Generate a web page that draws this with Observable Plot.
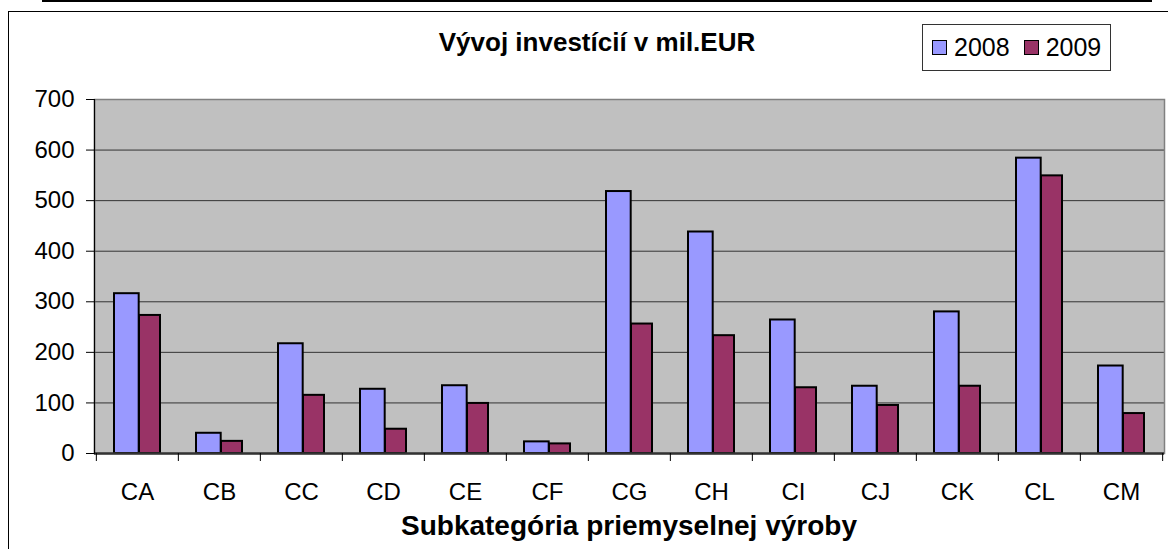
<!DOCTYPE html>
<html>
<head>
<meta charset="utf-8">
<script src="https://cdn.jsdelivr.net/npm/d3@7"></script>
<script src="https://cdn.jsdelivr.net/npm/@observablehq/plot@0.6"></script>
<style>
  html, body { margin: 0; padding: 0; background: #fff; }
  #wrap { position: relative; width: 1168px; height: 549px; overflow: hidden; font-family: "Liberation Sans", Arial, sans-serif; }
  #topline { position: absolute; left: 42px; top: 0; width: 1110px; height: 2px; background: #000; }
  #box { position: absolute; left: 8px; top: 11px; width: 1300px; height: 700px; border: 1px solid #000; box-sizing: border-box; }
  #chart { position: absolute; left: 0; top: 0; }
  #title { position: absolute; left: 0; width: 1194px; top: 28.7px; text-align: center; font-weight: bold; font-size: 26px; line-height: 1; color: #000; }
  #xtitle { position: absolute; left: 0; width: 1258px; top: 512px; text-align: center; font-weight: bold; font-size: 28px; line-height: 1; color: #000; white-space: nowrap; }
  #legend { position: absolute; left: 922px; top: 24px; width: 189px; height: 47px; box-sizing: border-box; border: 1px solid #333; background: #fff; display: flex; align-items: center; padding-left: 9px; }
  .item { display: flex; align-items: center; margin-right: 14px; font-size: 25px; line-height: 1; }
  .sw { width: 15px; height: 15px; box-sizing: border-box; border: 1px solid #000; margin-right: 7px; }
</style>
</head>
<body>
<div id="wrap">
  <div id="topline"></div>
  <div id="box"></div>
  <div id="chart"></div>
  <div id="title"></div>
  <div id="legend"></div>
  <div id="xtitle"></div>
</div>
<script>
const chartTitle = "Vývoj investícií v mil.EUR";
const xAxisTitle = "Subkategória priemyselnej výroby";
const categories = ["CA", "CB", "CC", "CD", "CE", "CF", "CG", "CH", "CI", "CJ", "CK", "CL", "CM"];
const years = ["2008", "2009"];
const values2008 = [316, 40, 217, 127, 134, 23, 518, 438, 264, 133, 280, 584, 173];
const values2009 = [273, 24, 115, 48, 99, 19, 256, 233, 130, 95, 133, 549, 79];
const yTicks = [0, 100, 200, 300, 400, 500, 600, 700];
const colors = ["#9999FF", "#993366"];

const data = categories.flatMap((c, i) => [
  {cat: c, year: years[0], value: values2008[i]},
  {cat: c, year: years[1], value: values2009[i]}
]);

const W = 1168, H = 549, mL = 94, mR = 4;
const bw = (W - mL - mR) / categories.length;

const chart = Plot.plot({
  width: W,
  height: H,
  marginTop: 99,
  marginLeft: mL,
  marginRight: mR,
  marginBottom: 96,
  style: {fontFamily: "'Liberation Sans', Arial, sans-serif", fontSize: "24px", color: "#000", background: "transparent", overflow: "visible"},
  x: {type: "band", domain: categories, padding: 0, label: null},
  y: {domain: [0, 700], label: null},
  color: {domain: years, range: colors},
  marks: [
    Plot.frame({fill: "#C0C0C0"}),
    Plot.gridY(yTicks.filter(t => t > 0 && t < 700), {stroke: "#333", strokeOpacity: 1, strokeWidth: 1}),
    Plot.frame({stroke: "#808080", strokeWidth: 1.5}),
    Plot.barY(data.filter(d => d.year === years[0]), {x: "cat", y: "value", fill: "year", stroke: "#000", strokeWidth: 2, insetLeft: 18, insetRight: bw - 43}),
    Plot.barY(data.filter(d => d.year === years[1]), {x: "cat", y: "value", fill: "year", stroke: "#000", strokeWidth: 2, insetLeft: 43, insetRight: 18}),
    Plot.ruleY([0], {stroke: "#333", strokeWidth: 2.5}),
    Plot.frame({anchor: "left", stroke: "#000", strokeWidth: 1.2}),
    Plot.axisY({ticks: yTicks, tickSize: 8, tickPadding: 12, fontSize: 24, label: null, stroke: "#000"}),
    Plot.axisX({tickSize: 0, tickPadding: 29, fontSize: 24, label: null}),
    Plot.axisX({ticks: categories, tickSize: 8, text: null, dx: -bw / 2, label: null, stroke: "#000"}),
    Plot.axisX({ticks: [categories[categories.length - 1]], tickSize: 8, text: null, dx: bw / 2, label: null, stroke: "#000"})
  ]
});
document.getElementById("chart").appendChild(chart);

document.getElementById("title").textContent = chartTitle;
document.getElementById("xtitle").textContent = xAxisTitle;
const legend = document.getElementById("legend");
years.forEach((y, i) => {
  const it = document.createElement("div");
  it.className = "item";
  const sw = document.createElement("div");
  sw.className = "sw";
  sw.style.background = colors[i];
  const t = document.createElement("span");
  t.textContent = y;
  it.appendChild(sw);
  it.appendChild(t);
  legend.appendChild(it);
});
</script>
</body>
</html>
